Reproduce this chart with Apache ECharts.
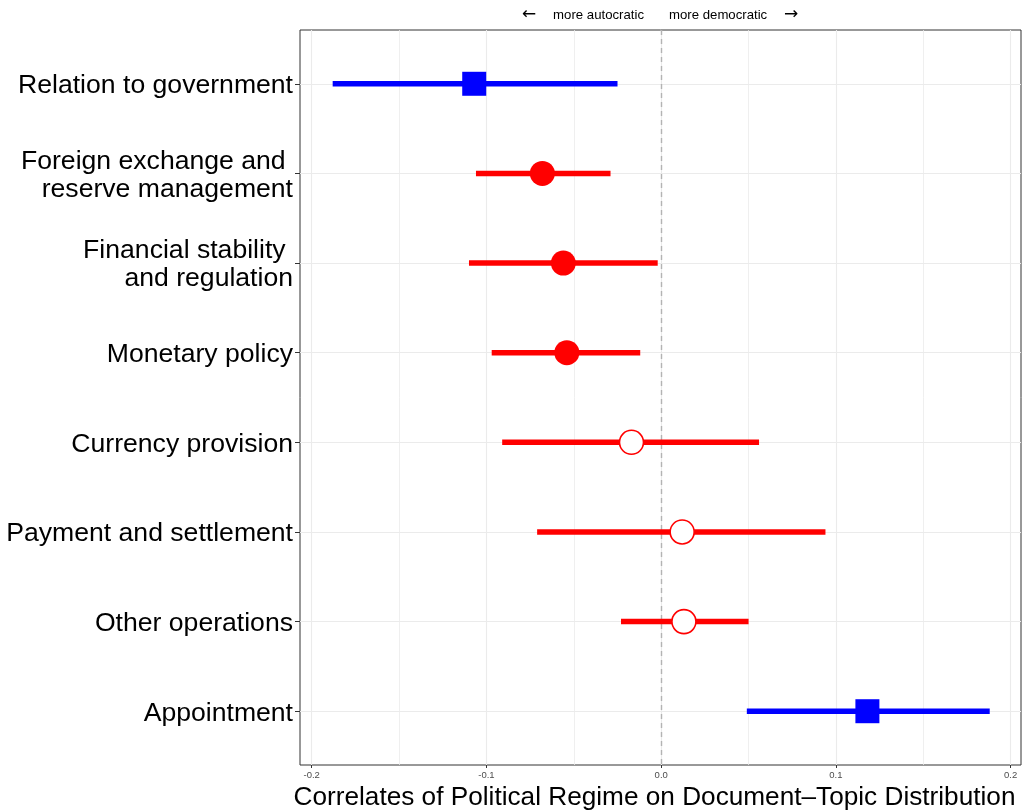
<!DOCTYPE html>
<html>
<head>
<meta charset="utf-8">
<script src="https://cdn.jsdelivr.net/npm/echarts@6/dist/echarts.min.js"></script>
<style>html,body{margin:0;padding:0;background:#fff}#c{width:1029px;height:812px}</style>
</head>
<body>
<div id="c"></div>
<script>
// ---- data ----
const categories = [
  'Relation to government',
  'Foreign exchange and \nreserve management',
  'Financial stability \nand regulation',
  'Monetary policy',
  'Currency provision',
  'Payment and settlement',
  'Other operations',
  'Appointment'
];
const estimates = [-0.107, -0.068, -0.056, -0.054, -0.017, 0.012, 0.013, 0.118];
const lower     = [-0.188, -0.106, -0.110, -0.097, -0.091, -0.071, -0.023, 0.049];
const upper     = [-0.025, -0.029, -0.002, -0.012, 0.056, 0.094, 0.050, 0.188];
const group     = ['governance','operations','operations','operations','operations','operations','operations','governance'];
const tickValues = [-0.2, -0.1, 0.0, 0.1, 0.2];
const tickLabels = ['-0.2', '-0.1', '0.0', '0.1', '0.2'];
const minorGrid  = [-0.15, -0.05, 0.05, 0.15];
const xTitle = 'Correlates of Political Regime on Document\u2013Topic Distribution';
const leftNote = 'more autocratic';
const rightNote = 'more democratic';

// ---- build ----
const FONT = '"Liberation Sans", Arial, Helvetica, sans-serif';
const RED = '#ff0000', BLUE = '#0000ff';
const rows = categories.map((c, i) => i + 1);
const significant = lower.map((l, i) => l > 0 || upper[i] < 0);

const barData = categories.map((c, i) => [lower[i], upper[i], i + 1, group[i] === 'governance' ? 1 : 0]);
const squares = [], filled = [], hollow = [];
categories.forEach((c, i) => {
  const p = [estimates[i], i + 1];
  if (group[i] === 'governance') squares.push(p);
  else if (significant[i]) filled.push(p);
  else hollow.push(p);
});

const gridLineStyle = { color: '#ebebeb', width: 1.1, type: 'solid' };
const gridLines = []
  .concat(tickValues.map(v => ({ xAxis: v, lineStyle: gridLineStyle })))
  .concat(minorGrid.map(v => ({ xAxis: v, lineStyle: { color: '#ebebeb', width: 0.8, type: 'solid' } })))
  .concat(rows.map(v => ({ yAxis: v, lineStyle: gridLineStyle })));

const chart = echarts.init(document.getElementById('c'), null, { renderer: 'canvas' });
chart.setOption({
  animation: false,
  backgroundColor: '#ffffff',
  textStyle: { fontFamily: FONT },
  grid: { left: 300, right: 8, top: 30, bottom: 47, outerBoundsMode: 'none', containLabel: false,
          show: true, borderColor: '#333333', borderWidth: 1, backgroundColor: 'transparent' },
  xAxis: {
    type: 'value', min: -0.2067, max: 0.2059,
    axisLine: { show: false, onZero: false },
    splitLine: { show: false },
    axisTick: { show: true, customValues: tickValues, length: 3, lineStyle: { color: '#333333', width: 1 } },
    axisLabel: {
      customValues: tickValues, margin: 5, fontSize: 9.5, color: '#4d4d4d', fontFamily: FONT,
      formatter: v => { const k = tickValues.findIndex(t => Math.abs(t - v) < 1e-9); return k >= 0 ? tickLabels[k] : ''; }
    },
    name: xTitle, nameLocation: 'middle', nameGap: 18,
    nameTextStyle: { fontSize: 26.2, color: '#000', fontFamily: FONT, padding: [0, 12, 0, 0] }
  },
  yAxis: {
    type: 'value', min: 0.4, max: 8.6, inverse: true,
    axisLine: { show: false, onZero: false },
    splitLine: { show: false },
    axisTick: { show: true, customValues: rows, length: 5, lineStyle: { color: '#333333', width: 1 } },
    axisLabel: {
      customValues: rows, margin: 7, color: '#000', align: 'right', fontFamily: FONT,
      formatter: v => {
        const k = Math.round(v) - 1;
        if (categories[k] === undefined) return '';
        return '{s|}\n' + categories[k].split('\n').map(l => '{a|' + l + '}').join('\n');
      },
      rich: {
        a: { fontSize: 26.6, lineHeight: 28, color: '#000', fontFamily: FONT, align: 'right' },
        s: { fontSize: 1, lineHeight: 4, height: 4 }
      }
    }
  },
  graphic: [
    { type: 'text', x: 529, y: 15, style: { text: '\u2190', fill: '#000', font: '17px "DejaVu Sans", sans-serif', align: 'center', verticalAlign: 'middle' } },
    { type: 'text', x: 644, y: 15, style: { text: leftNote, fill: '#000', font: '13.2px ' + FONT, align: 'right', verticalAlign: 'middle' } },
    { type: 'text', x: 669, y: 15, style: { text: rightNote, fill: '#000', font: '13.2px ' + FONT, align: 'left', verticalAlign: 'middle' } },
    { type: 'text', x: 791, y: 15, style: { text: '\u2192', fill: '#000', font: '17px "DejaVu Sans", sans-serif', align: 'center', verticalAlign: 'middle' } }
  ],
  series: [
    {
      type: 'scatter', data: [], z: 0, silent: true,
      markLine: { z: 0, silent: true, symbol: 'none', label: { show: false }, animation: false, data: gridLines }
    },
    {
      type: 'scatter', data: [], z: 1, silent: true,
      markLine: { z: 1, silent: true, symbol: 'none', label: { show: false }, animation: false,
        data: [{ xAxis: 0, lineStyle: { color: '#b3b3b3', width: 1.4, type: [5, 4] } }] }
    },
    {
      type: 'custom', z: 10, data: barData,
      renderItem: (params, api) => {
        const lo = api.value(0), hi = api.value(1), y = api.value(2), g = api.value(3);
        const a = api.coord([lo, y]), b = api.coord([hi, y]);
        return { type: 'line', shape: { x1: a[0], y1: a[1], x2: b[0], y2: b[1] },
          style: { stroke: g === 1 ? BLUE : RED, lineWidth: 5.5, lineCap: 'butt' } };
      }
    },
    { type: 'scatter', z: 11, data: squares, symbol: 'rect', symbolSize: 24, itemStyle: { color: BLUE, opacity: 1 } },
    { type: 'scatter', z: 11, data: filled, symbol: 'circle', symbolSize: 25, itemStyle: { color: RED, opacity: 1 } },
    { type: 'scatter', z: 11, data: hollow, symbol: 'circle', symbolSize: 24, itemStyle: { color: '#ffffff', borderColor: RED, borderWidth: 1.6, opacity: 1 } }
  ]
});
</script>
</body>
</html>
